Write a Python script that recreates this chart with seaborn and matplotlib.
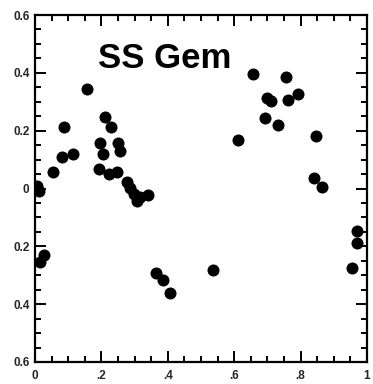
import matplotlib
matplotlib.use("Agg")
import matplotlib.pyplot as plt
from matplotlib.ticker import MultipleLocator, FixedLocator
import numpy as np
import pandas as pd
import seaborn as sns

# Light-curve points: phase and relative magnitude
phase = [0.006, 0.012, 0.015, 0.027, 0.055, 0.082, 0.115, 0.087, 0.157,
         0.211, 0.229, 0.196, 0.205, 0.250, 0.256, 0.194, 0.223, 0.247,
         0.277, 0.286, 0.298, 0.307, 0.316, 0.340,
         0.364, 0.386, 0.407, 0.537,
         0.657, 0.756, 0.700, 0.711, 0.762, 0.792, 0.693, 0.732, 0.610,
         0.845, 0.841, 0.865, 0.970, 0.970, 0.955]
mag = [-0.010, 0.010, 0.254, 0.230, -0.058, -0.110, -0.119, -0.214, -0.344,
       -0.247, -0.213, -0.157, -0.119, -0.157, -0.130, -0.067, -0.050, -0.057,
       -0.023, -0.002, 0.019, 0.043, 0.029, 0.022,
       0.291, 0.316, 0.361, 0.283,
       -0.395, -0.385, -0.312, -0.301, -0.306, -0.327, -0.244, -0.220, -0.168,
       -0.182, -0.035, -0.006, 0.147, 0.188, 0.275]

x_ticks = [0.0, 0.2, 0.4, 0.6, 0.8, 1.0]
x_labels = ["0", ".2", ".4", ".6", ".8", "1"]
y_ticks = [-0.6, -0.4, -0.2, 0.0, 0.2, 0.4, 0.6]
y_labels = ["0.6", "0.4", "0.2", "0", "0.2", "0.4", "0.6"]
star = "SS Gem"

df = pd.DataFrame({"phase": phase, "mag": mag})

sns.set_style("ticks")
plt.rcParams["font.family"] = ["Liberation Sans", "DejaVu Sans"]

fig = plt.figure(figsize=(3.73, 3.84), dpi=100)
ax = fig.add_axes([0.0938, 0.0573, 0.8901, 0.9036])

sns.scatterplot(data=df, x="phase", y="mag", ax=ax, color="black",
                s=75, linewidth=0, legend=False)

ax.set_xlim(0, 1)
ax.set_ylim(0.6, -0.6)
ax.xaxis.set_major_locator(FixedLocator(x_ticks))
ax.set_xticklabels(x_labels)
ax.xaxis.set_minor_locator(MultipleLocator(0.05))
ax.yaxis.set_major_locator(FixedLocator(y_ticks))
ax.set_yticklabels(y_labels)
ax.yaxis.set_minor_locator(MultipleLocator(0.05))
ax.set_xlabel("")
ax.set_ylabel("")

for sp in ax.spines.values():
    sp.set_visible(True)
    sp.set_linewidth(1.6)
    sp.set_color("black")

ax.tick_params(which="both", direction="in", top=True, right=True,
               color="black", width=1.4)
ax.tick_params(which="major", length=8, labelsize=8.5)
ax.tick_params(axis="x", which="major", pad=6)
ax.tick_params(axis="y", which="major", pad=4)
ax.tick_params(which="minor", length=4)
for lab in ax.get_xticklabels() + ax.get_yticklabels():
    lab.set_fontweight("bold")

ax.text(0.19, 0.848, star, transform=ax.transAxes, ha="left",
        va="baseline", fontsize=25, fontweight="bold", color="black")

fig.savefig("out.png", dpi=100, facecolor="white")
